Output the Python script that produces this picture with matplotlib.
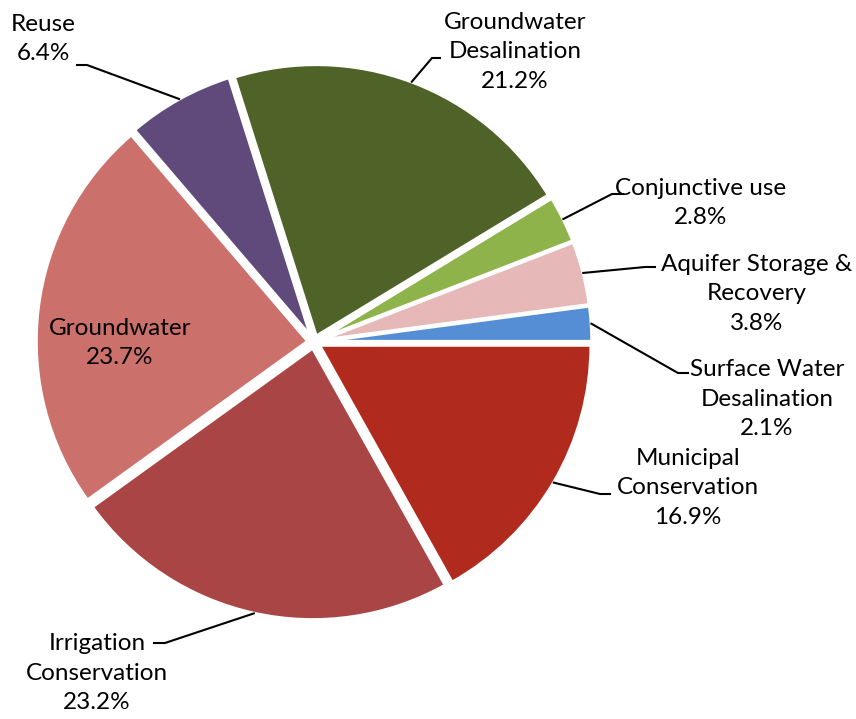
import numpy as np
import matplotlib.pyplot as plt

plt.rcParams['font.family'] = ['Lato', 'DejaVu Sans']

# supply options, counterclockwise from 3 o'clock
names = ["Surface Water\nDesalination", "Aquifer Storage &\nRecovery", "Conjunctive use",
         "Groundwater\nDesalination", "Reuse", "Groundwater", "Irrigation\nConservation",
         "Municipal\nConservation"]
shares = [2.1, 3.8, 2.8, 21.2, 6.4, 23.7, 23.2, 16.9]
colors = ["#558ED5", "#E6B8B7", "#8DB34A", "#4F6228", "#604A7B", "#CC706B", "#A94645", "#B02A1E"]

W, H = 856, 719
cx, cy, R = 314, H - 342, 272
gap = 6  # explode offset in pixels

# label centre (px, y down) and leader elbow / stub end (None = label inside slice)
label_pos = [(767, 399), (757, 294), (701, 203), (515, 52), (43, 39), (120, 343), (97, 673), (688, 488)]
elbows = [((678, 373), (688, 373)), ((645, 267), (655, 267)), ((612, 194), (623, 194)),
          ((432, 58), (440, 58)), ((87, 65), (77, 65)), None, ((165, 643), (154, 643)),
          ((600, 494), (610, 494))]

fig = plt.figure(figsize=(W / 100, H / 100), dpi=100)
ax = fig.add_axes([0, 0, 1, 1])

wedges, _ = ax.pie(shares, colors=colors, startangle=0, counterclock=True, radius=R,
                   center=(cx, cy), explode=[gap] * len(shares),
                   wedgeprops=dict(edgecolor='white', linewidth=2.5), frame=True)
ax.set_xlim(0, W)
ax.set_ylim(0, H)
ax.set_aspect('equal')
ax.axis('off')

total = sum(shares)
start = 0.0
for i, (name, val) in enumerate(zip(names, shares)):
    mid = np.deg2rad(start + 360 * val / total / 2)
    start += 360 * val / total
    lx, ly = label_pos[i]
    ax.text(lx, H - ly, f"{name}\n{val:.1f}%", ha='center', va='center',
            fontsize=17.5, linespacing=1.5, color='black')
    if elbows[i] is None:
        continue
    ex = cx + (R + gap) * np.cos(mid)
    ey = cy + (R + gap) * np.sin(mid)
    (bx, by), (sx, sy) = elbows[i]
    ax.plot([ex, bx, sx], [ey, H - by, H - sy], color='black', lw=1.5,
            solid_joinstyle='miter')

fig.savefig("out.png", dpi=100)
